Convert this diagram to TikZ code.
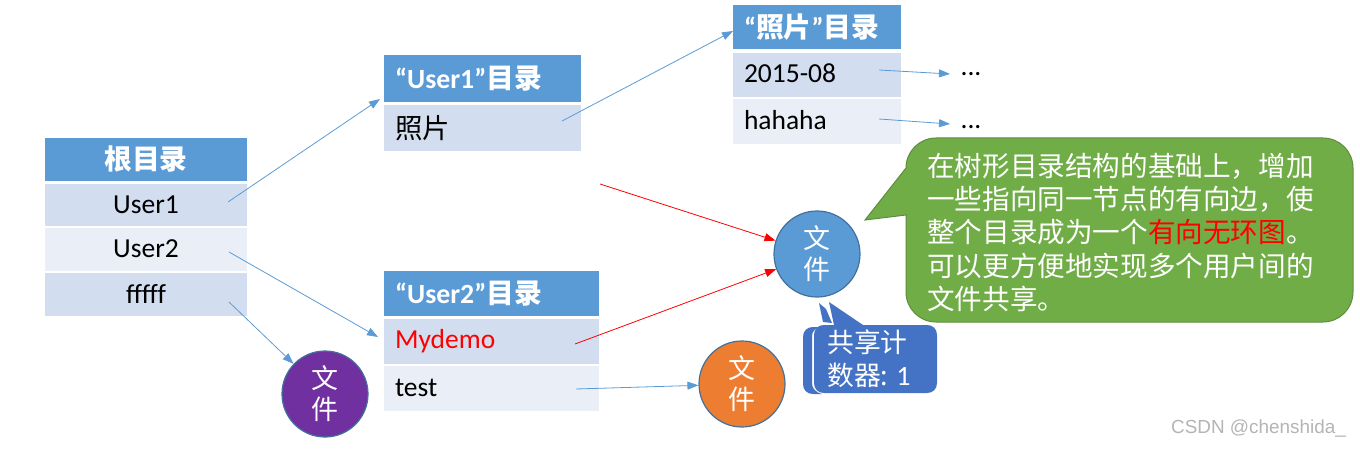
\documentclass[tikz,border=0pt]{standalone}
\usepackage{fontspec}
\usetikzlibrary{arrows.meta}
\setmainfont{Carlito}
\newfontfamily\cjk{Noto Sans CJK SC}
\definecolor{hdr}{HTML}{5B9BD5}
\definecolor{cella}{HTML}{D2DEEF}
\definecolor{cellb}{HTML}{EAEFF7}
\definecolor{grn}{HTML}{70AD47}
\definecolor{grnedge}{HTML}{5E8C3E}
\definecolor{blu}{HTML}{4472C4}
\definecolor{org}{HTML}{ED7D31}
\definecolor{pur}{HTML}{7030A0}
\definecolor{circedge}{HTML}{41719C}
\definecolor{wm}{HTML}{B4B4B4}
\tikzset{
  x=1pt,y=-1pt,
  boxbase/.style={inner sep=0pt,outer sep=0pt,font=\fontsize{27.5}{30}\selectfont},
  header/.style={boxbase,fill=hdr,text=white,font=\fontsize{27.8}{30}\selectfont\bfseries},
  rowa/.style={boxbase,fill=cella,text=black},
  rowb/.style={boxbase,fill=cellb,text=black},
  leftin/.style={align=left,inner xsep=11pt},
  filecirc/.style={circle,draw=circedge,line width=1.2pt,minimum size=86pt,inner sep=0pt,text=white,align=center,font=\cjk\fontsize{27}{31}\selectfont},
  bluearrow/.style={draw=hdr,line width=0.8pt,-{Triangle[length=11pt,width=8pt,fill=hdr]}},
  redarrow/.style={draw=red,line width=0.8pt,-{Triangle[length=11pt,width=8pt,fill=red]}},
}
\newcommand{\cjkt}[1]{{\cjk #1}}
\newcommand{\up}[2]{\raisebox{#1pt}{#2}}
\begin{document}
\begin{tikzpicture}
\useasboundingbox (0,0) rectangle (1360,449);
% root table
\node[header,minimum width=202pt,minimum height=43pt] (rh) at (146,159.5) {\up{-1}{\cjkt{根目录}}};
\node[rowa,minimum width=202pt,minimum height=42pt] (r1) at (146,205) {\up{1}{User1}};
\node[rowb,minimum width=202pt,minimum height=43pt] (r2) at (146,249.5) {\up{1}{User2}};
\node[rowa,minimum width=202pt,minimum height=43pt] (r3) at (146,294.5) {\up{1}{fffff}};
% user1 table
\node[header,leftin,text width=175pt,minimum height=47pt,anchor=west] (uh) at (384,78.5) {“User1”\cjkt{目录}};
\node[rowa,leftin,text width=175pt,minimum height=46pt,anchor=west] (u1) at (384,128) {\cjkt{照片}};
% user2 table
\node[header,leftin,text width=193pt,minimum height=45pt,anchor=west] (vh) at (384,293.5) {“User2”\cjkt{目录}};
\node[rowa,leftin,text width=193pt,minimum height=45pt,anchor=west,text=red] (v1) at (384,341.5) {\up{2}{Mydemo}};
\node[rowb,leftin,text width=193pt,minimum height=45pt,anchor=west] (v2) at (384,388.5) {\up{2}{test}};
% photo table
\node[header,leftin,text width=146pt,minimum height=44pt,anchor=west] (ph) at (733,27) {“\cjkt{照片}”\cjkt{目录}};
\node[rowa,leftin,text width=146pt,minimum height=44pt,anchor=west] (p1) at (733,75) {\up{4}{2015-08}};
\node[rowb,leftin,text width=146pt,minimum height=45pt,anchor=west] (p2) at (733,121.5) {\up{3}{hahaha}};
% dots
\node[boxbase,text=black] (d1) at (971,74) {...};
\node[boxbase,text=black] (d2) at (971,127) {...};
% circles
\node[filecirc,fill=hdr] (cb) at (817,254) {文\\件};
\node[filecirc,fill=pur] (cp) at (325,394) {文\\件};
\node[filecirc,fill=org] (co) at (742,384) {文\\件};
% green callout
\fill[grn,draw=grnedge,line width=1pt] (906,168) .. controls (906,151.4) and (919.4,138) .. (936,138) -- (1323,138) .. controls (1339.6,138) and (1353,151.4) .. (1353,168) -- (1353,292) .. controls (1353,308.6) and (1339.6,322) .. (1323,322) -- (936,322) .. controls (919.4,322) and (906,308.6) .. (906,292) -- (906,215) -- (865,220) -- cycle;
\node[anchor=north west,inner sep=0pt,text=white,align=left,font=\cjk\fontsize{27.6}{33.2}\selectfont] (gt) at (927,153) {在树形目录结构的基础上，增加\\一些指向同一节点的有向边，使\\整个目录成为一个\textcolor{red}{有向无环图}。\\可以更方便地实现多个用户间的\\文件共享。};
% blue callout
\fill[blu] (813,327) .. controls (807,327) and (803,331) .. (803,337) -- (803,384) .. controls (803,390) and (807,394) .. (813,394) -- (822,394) .. controls (815,392) and (812,388) .. (812,383) -- (812,336) .. controls (812,332) and (815,328) .. (820,327) -- cycle;
\fill[blu] (819,303) -- (826,309) -- (832,323) -- (823,322) -- cycle;
\fill[blu] (829,302) -- (863,325) -- (927,325) .. controls (933,325) and (937,329) .. (937,335) -- (937,383) .. controls (937,389) and (933,393) .. (927,393) -- (824,393) .. controls (818,393) and (814,389) .. (814,383) -- (814,335) .. controls (814,329) and (818,325) .. (824,325) -- (834,325) -- cycle;
\node[anchor=north west,inner sep=0pt,text=white,align=left,font=\cjk\fontsize{26.8}{33}\selectfont] (bt) at (827,330) {共享计\\数器: {\fontspec{Carlito}\fontsize{28}{33}\selectfont 1}};
% connectors
\coordinate (s1) at (228,202); \coordinate (e1) at (380,99);
\coordinate (s2) at (229,252); \coordinate (e2) at (378,337);
\coordinate (s3) at (229,302);
\coordinate (s4) at (562,121); \coordinate (e4) at (733,31);
\coordinate (s5) at (879,70);  \coordinate (e5) at (950,74);
\coordinate (s6) at (879,119); \coordinate (e6) at (950,124);
\coordinate (s7) at (576,389);
\coordinate (s8) at (575,344);
\coordinate (s9) at (600,184); 
\draw[bluearrow] (s1) -- (e1);
\draw[bluearrow] (s2) -- (e2);
\draw[bluearrow] (s3) -- (cp);
\draw[bluearrow] (s4) -- (e4);
\draw[bluearrow] (s5) -- (e5);
\draw[bluearrow] (s6) -- (e6);
\draw[bluearrow] (s7) -- (co);
\draw[redarrow] (s8) -- (cb);
\draw[redarrow] (s9) -- (cb);
% watermark
\node[anchor=west,inner sep=0pt,text=wm,font=\fontsize{18.9}{24}\selectfont\fontspec{Liberation Sans}] (wmk) at (1171,429) {CSDN @chenshida\_};
\end{tikzpicture}
\end{document}
